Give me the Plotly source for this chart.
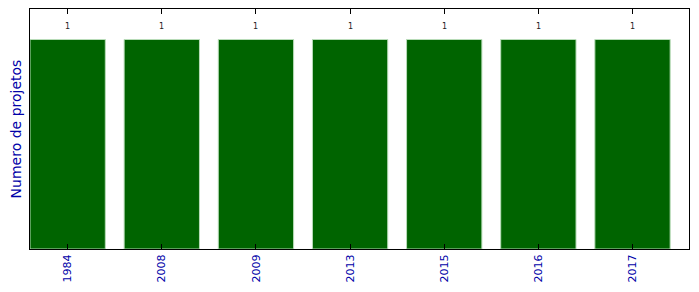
import plotly.graph_objects as go

years = ["1984", "2008", "2009", "2013", "2015", "2016", "2017"]
counts = [1, 1, 1, 1, 1, 1, 1]

BAR_COLOR = "#006400"
LABEL_COLOR = "#0000a8"

fig = go.Figure()
fig.add_trace(go.Bar(
    x=years, y=counts, width=0.8,
    marker=dict(color=BAR_COLOR, line=dict(color="#b8dcb8", width=1)),
    hoverinfo="skip",
))
for i, c in enumerate(counts):
    fig.add_annotation(x=i, y=c, xref="x", yref="y", text=str(c), showarrow=False,
                       yshift=13, font=dict(family="DejaVu Sans", size=8, color="#222222"))

fig.update_layout(
    width=699, height=292,
    margin=dict(l=30, r=10, t=9, b=43),
    paper_bgcolor="white", plot_bgcolor="white",
    showlegend=False,
    font=dict(family="DejaVu Sans"),
    bargap=0.2,
)
fig.update_xaxes(
    type="category", range=[-0.4, 6.6],
    showline=True, linecolor="black", linewidth=1, mirror="ticks",
    ticks="inside", ticklen=5, tickcolor="black", tickwidth=1,
    tickangle=-90, tickfont=dict(family="DejaVu Sans", size=11, color=LABEL_COLOR),
    showgrid=False, zeroline=False,
)
fig.update_yaxes(
    range=[0, 1.1456],
    showline=True, linecolor="black", linewidth=1, mirror=True,
    showticklabels=False, ticks="", showgrid=False, zeroline=False,
    title=dict(text="Numero de projetos", font=dict(family="DejaVu Sans", size=14, color=LABEL_COLOR), standoff=4),
)

fig.write_html("out.html")
